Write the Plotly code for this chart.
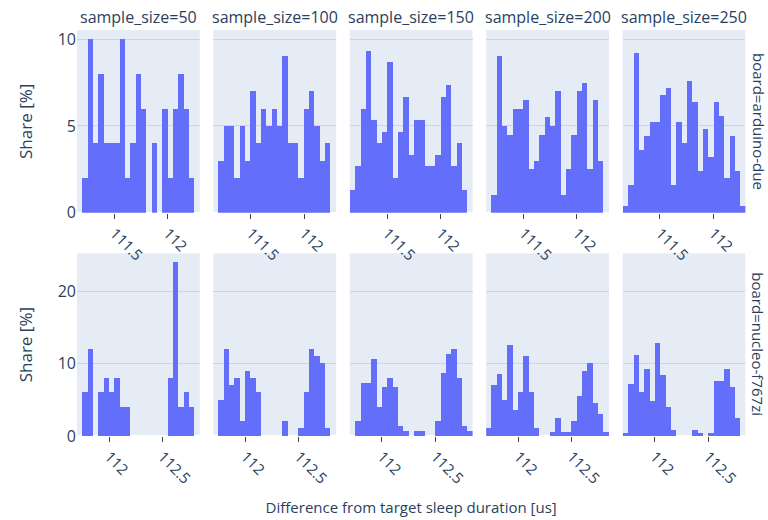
import plotly.graph_objects as go
from plotly.subplots import make_subplots

sample_sizes = [50, 100, 150, 200, 250]
boards = ["arduino-due", "nucleo-f767zi"]
bin_width = 0.05

# left edge of the first bin of each panel (us)
due_bin_start = [111.20, 111.20, 111.15, 111.20, 111.15]
nucleo_bin_start = [111.75, 111.75, 111.75, 111.70, 111.70]

# share of samples per bin [%]
due_share_50 = [2, 10, 4, 8, 4, 4, 4, 10, 2, 4, 8, 6, 0, 4, 0, 6, 2, 6, 8, 6, 2]
due_share_100 = [3, 5, 5, 2, 5, 3, 7, 4, 6, 5, 6, 5, 9, 4, 4, 2, 6, 7, 5, 3, 4]
due_share_150 = [1.33, 2.67, 6.0, 9.33, 5.33, 4.0, 4.67, 8.67, 2.0, 4.67, 6.67,
                 3.33, 5.33, 5.33, 2.67, 2.67, 3.33, 6.67, 7.33, 2.67, 4.0, 1.33]
due_share_200 = [1.0, 9.0, 5.0, 4.5, 6.0, 6.0, 6.5, 2.5, 3.0, 4.5, 5.5, 5.0, 7.0,
                 1.0, 2.5, 4.5, 7.0, 7.5, 2.5, 6.5, 3.0]
due_share_250 = [0.4, 1.6, 9.2, 3.6, 4.4, 5.2, 5.2, 6.8, 7.2, 1.6, 5.2, 4.0, 7.6,
                 6.4, 2.4, 4.8, 3.2, 6.4, 5.6, 2.0, 4.4, 2.4, 0.4]

nucleo_share_50 = [6, 12, 0, 6, 8, 6, 8, 4, 4, 0, 0, 0, 0, 0, 0, 0, 8, 24, 4, 6, 4]
nucleo_share_100 = [5, 12, 7, 8, 2, 9, 8, 6, 0, 0, 0, 0, 2, 0, 0, 1, 6, 12, 11, 10, 1]
nucleo_share_150 = [2.0, 7.33, 7.33, 10.67, 4.0, 6.67, 8.0, 6.67, 1.33, 0.67, 0,
                    0.67, 0.67, 0, 0, 2.0, 8.67, 11.33, 12.0, 8.0, 1.33, 0.67]
nucleo_share_200 = [1.0, 7.0, 8.5, 5.0, 12.5, 3.5, 6.0, 11.0, 6.0, 1.0, 0, 0, 0.5,
                    2.5, 0.5, 0.5, 2.0, 5.5, 9.0, 10.0, 4.5, 3.0, 0.5]
nucleo_share_250 = [0.4, 7.2, 11.2, 6.0, 9.2, 4.8, 12.8, 8.4, 4.0, 0.8, 0, 0, 0,
                    0.8, 0.4, 0, 0.4, 7.6, 7.6, 9.2, 6.8, 2.4]

shares = {
    "arduino-due": [due_share_50, due_share_100, due_share_150, due_share_200, due_share_250],
    "nucleo-f767zi": [nucleo_share_50, nucleo_share_100, nucleo_share_150,
                      nucleo_share_200, nucleo_share_250],
}
starts = {"arduino-due": due_bin_start, "nucleo-f767zi": nucleo_bin_start}

col_titles = [f"sample_size={s}" for s in sample_sizes]
row_titles = [f"board={b}" for b in boards]

fig = make_subplots(
    rows=2, cols=5,
    horizontal_spacing=0.02, vertical_spacing=0.1,
    shared_yaxes=True,
    column_titles=col_titles,
    row_titles=row_titles,
)

for r, board in enumerate(boards, start=1):
    for c, s in enumerate(sample_sizes, start=1):
        vals = shares[board][c - 1]
        x0 = starts[board][c - 1]
        xs = [x0 + (i + 0.5) * bin_width for i in range(len(vals))]
        fig.add_trace(
            go.Bar(x=xs, y=vals, width=bin_width, marker_color="#636efa",
                   marker_line_width=0, showlegend=False),
            row=r, col=c,
        )

fig.update_layout(
    template="plotly",
    width=768, height=520,
    margin=dict(l=77, r=9, t=30, b=84, autoexpand=False),
    bargap=0,
    font=dict(family="Open Sans, verdana, arial, sans-serif", size=15, color="#2a3f5f"),
    showlegend=False,
)
for a in fig.layout.annotations:
    if a.text in row_titles:
        a.font = dict(size=15, color="#2a3f5f")
        a.xshift = 1
    else:
        a.font = dict(size=16, color="#2a3f5f")

fig.update_xaxes(showgrid=False, ticks="outside", ticklen=5, tickcolor="#444",
                 tickangle=45, dtick=0.5, tick0=0, automargin=False,
                 tickfont=dict(size=15))
fig.update_yaxes(gridcolor="lightgrey", automargin=False, tickfont=dict(size=16))
fig.update_yaxes(dtick=5, row=1)
fig.update_yaxes(dtick=10, row=2)

for c in range(2, 6):
    fig.update_xaxes(matches="x", row=1, col=c)
    fig.update_xaxes(matches="x6", row=2, col=c)

for r in (1, 2):
    fig.update_yaxes(title_text="Share [%]", title_font=dict(size=17),
                     title_standoff=20, row=r, col=1)
fig.update_xaxes(title_text="Difference from target sleep duration [us]",
                 title_font=dict(size=15), row=2, col=3)

fig.write_html("out.html")
